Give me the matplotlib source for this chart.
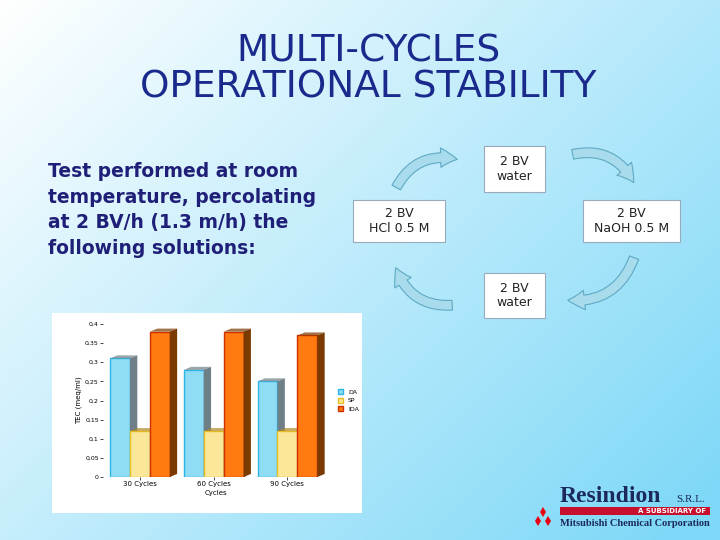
import numpy as np
import matplotlib
matplotlib.use("Agg")
import matplotlib.pyplot as plt
from matplotlib.patches import FancyArrowPatch, Rectangle, Polygon

categories = ["30 Cycles", "60 Cycles", "90 Cycles"]
series = ["DA", "SP", "IDA"]
da = [0.31, 0.28, 0.25]
sp = [0.12, 0.12, 0.12]
ida = [0.38, 0.38, 0.37]
yticks = [0, 0.05, 0.1, 0.15, 0.2, 0.25, 0.3, 0.35, 0.4]
ytick_labels = ["0", "0,05", "0,1", "0,15", "0,2", "0,25", "0,3", "0,35", "0,4"]

W, H = 720, 540
fig = plt.figure(figsize=(7.2, 5.4), dpi=100)
bg = fig.add_axes([0, 0, 1, 1])
bg.set_xlim(0, W); bg.set_ylim(H, 0); bg.axis("off")
xx, yy = np.meshgrid(np.linspace(0, 1, 200), np.linspace(0, 1, 150))
t = np.clip(0.6 * xx + 0.45 * yy, 0, 1)
c0 = np.array([1.0, 1.0, 1.0]); c1 = np.array([0.50, 0.85, 0.97])
img = c0[None, None, :] * (1 - t[..., None]) + c1[None, None, :] * t[..., None]
bg.imshow(img, extent=[0, W, H, 0], aspect="auto", zorder=0)

bg.text(368, 69, "MULTI-CYCLES\nOPERATIONAL STABILITY", ha="center", va="center",
        fontsize=27, color="#1a2a8c", linespacing=1.0)
bg.text(48, 210, "Test performed at room\ntemperature, percolating\nat 2 BV/h (1.3 m/h) the\nfollowing solutions:",
        ha="left", va="center", fontsize=13.5, fontweight="bold", color="#1f1f78", linespacing=1.45)

def box(x0, y0, x1, y1, txt):
    bg.add_patch(Rectangle((x0, y0), x1 - x0, y1 - y0, facecolor="white", edgecolor="#9ab", lw=0.8, zorder=2))
    bg.text((x0 + x1) / 2, (y0 + y1) / 2, txt, ha="center", va="center", fontsize=9, color="#222", zorder=3)

box(484, 146, 545, 192, "2 BV\nwater")
box(353, 200, 445, 242, "2 BV\nHCl 0.5 M")
box(583, 200, 680, 242, "2 BV\nNaOH 0.5 M")
box(484, 273, 545, 318, "2 BV\nwater")
arrow_kw = dict(arrowstyle="simple,head_width=14,head_length=12,tail_width=7",
                facecolor="#a8dcec", edgecolor="#5fa9c4", lw=0.8, zorder=2)
bg.add_patch(FancyArrowPatch((395, 190), (460, 160), connectionstyle="arc3,rad=-0.4", **arrow_kw))
bg.add_patch(FancyArrowPatch((570, 155), (635, 185), connectionstyle="arc3,rad=-0.4", **arrow_kw))
bg.add_patch(FancyArrowPatch((635, 255), (565, 300), connectionstyle="arc3,rad=-0.4", **arrow_kw))
bg.add_patch(FancyArrowPatch((455, 305), (395, 265), connectionstyle="arc3,rad=-0.4", **arrow_kw))

bg.add_patch(Rectangle((52, 313), 310, 200, facecolor="white", edgecolor="none", zorder=1))

bg.text(560, 497, "Resindion", fontsize=17, fontweight="bold", family="Liberation Serif", color="#1b2a5a", va="center")
bg.text(676, 500, "S.R.L.", fontsize=8, family="Liberation Serif", color="#1b2a5a", va="center")
bg.add_patch(Rectangle((560, 507), 150, 8, facecolor="#c8102e", edgecolor="none", zorder=2))
bg.text(706, 511, "A SUBSIDIARY OF", fontsize=5, color="white", ha="right", va="center", fontweight="bold", zorder=3)
for dx, dy in [(0, -6), (-5, 3), (5, 3)]:
    bg.add_patch(Polygon([(543 + dx, 518 + dy - 5), (546 + dx, 518 + dy), (543 + dx, 518 + dy + 5), (540 + dx, 518 + dy)],
                         closed=True, facecolor="#e60012", edgecolor="none", zorder=3))
bg.text(560, 524, "Mitsubishi Chemical Corporation", fontsize=7.5, fontweight="bold",
        family="Liberation Serif", color="#1b2a5a", va="center")

ax = fig.add_axes([103 / W, 1 - 477 / H, 225 / W, 153 / H])
ax.set_facecolor("white")
x = np.arange(len(categories))
w = 0.27
dx, dy = 0.1, 0.008
face = ["#8fdcf5", "#fbe79a", "#ff7a10"]
side = ["#6f7f88", "#b08a2a", "#7a3a00"]
edge = ["#2ab7e6", "#e8c020", "#d03000"]
for i, vals in enumerate([da, sp, ida]):
    xs = x + (i - 1) * w
    ax.bar(xs, vals, w, color=face[i], edgecolor=edge[i], lw=1, label=series[i], zorder=3 + i)
    for xc, v in zip(xs, vals):
        r = xc + w / 2; l = xc - w / 2
        ax.add_patch(Polygon([(r, 0), (r + dx, dy), (r + dx, v + dy), (r, v)], closed=True,
                             facecolor=side[i], edgecolor="none", zorder=3 + i))
        ax.add_patch(Polygon([(l, v), (l + dx, v + dy), (r + dx, v + dy), (r, v)], closed=True,
                             facecolor=side[i], alpha=0.7, edgecolor="none", zorder=3 + i))
ax.set_ylim(0, 0.4)
ax.set_xlim(-0.5, 2.55)
ax.set_yticks(yticks); ax.set_yticklabels(ytick_labels, fontsize=4.5)
ax.set_xticks(x); ax.set_xticklabels(categories, fontsize=5)
ax.set_xlabel("Cycles", fontsize=5, labelpad=2)
ax.set_ylabel("TEC (meq/ml)", fontsize=5, labelpad=2)
for s in ax.spines.values():
    s.set_visible(False)
ax.tick_params(length=2, width=0.5, pad=1)
ax.legend(loc="center left", bbox_to_anchor=(1.02, 0.5), fontsize=4.5, frameon=False,
          handlelength=0.8, handleheight=0.8)

fig.savefig("out.png", dpi=100)
